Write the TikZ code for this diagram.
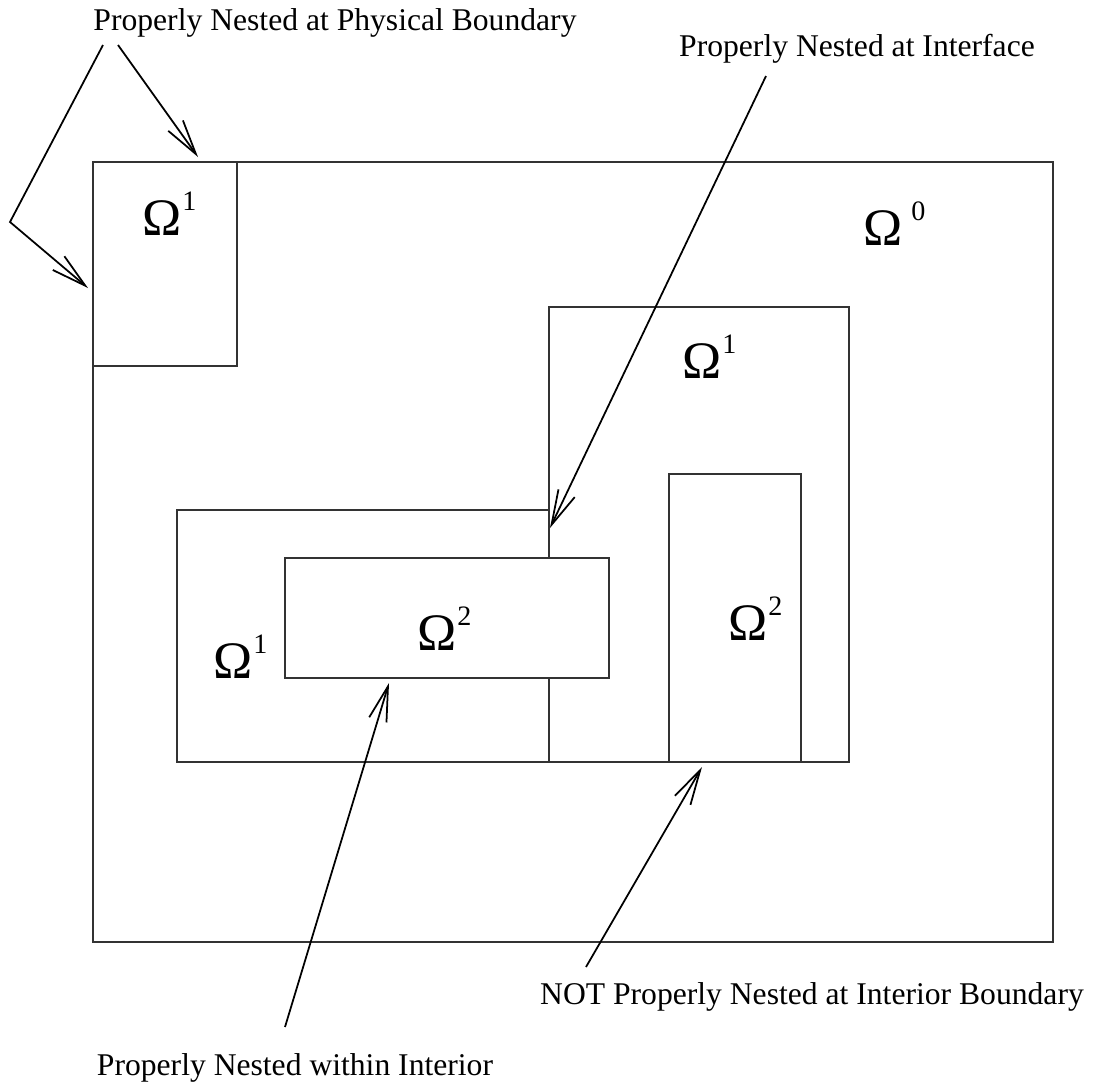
\documentclass[tikz,border=0pt]{standalone}
\usepackage{fontspec}
\setmainfont{Liberation Serif}
\usetikzlibrary{arrows.meta}
\newcommand{\Om}[2][0.5pt]{{\fontsize{30}{30}\selectfont Ω}\hspace{#1}\raisebox{14pt}{\fontsize{16}{16}\selectfont #2}}
\tikzset{
  box/.style={line width=0.6pt, draw=black!80},
  ptr/.style={line width=1pt, -{Straight Barb[length=0.7cm, width=0.36cm, line width=1pt]}},
  lbl/.style={font=\fontsize{18}{20}\selectfont, inner sep=0pt, anchor=base},
  om/.style={inner sep=0pt, anchor=base west}
}
\begin{document}
\begin{tikzpicture}[x=0.02cm, y=-0.02cm]
        \useasboundingbox (0,0) rectangle (1107,1082);
        % domains
        \draw[box] (93,162) rectangle (1053,942);
        \draw[box] (93,162) rectangle (237,366);
        \draw[box] (549,307) rectangle (849,762);
        \draw[box] (177,510) rectangle (549,762);
        \draw[box, fill=white] (285,558) rectangle (609,678);
        \draw[box] (669,474) rectangle (801,762);
        
        \node[om] (o0) at (863,245) {\Om[5pt]{0}};
        \node[om] (o1a) at (142,235) {\Om{1}};
        \node[om] (o1b) at (682,378) {\Om{1}};
        \node[om] (o1c) at (213,678) {\Om{1}};
        \node[om] (o2a) at (417,650) {\Om{2}};
        \node[om] (o2b) at (728,640) {\Om{2}};
        
        % labels
        \node[lbl] (phys) at (335,30) {Properly Nested at Physical Boundary};
        \node[lbl] (intf) at (857,56) {Properly Nested at Interface};
        \node[lbl] (notp) at (812,1004) {NOT Properly Nested at Interior Boundary};
        \node[lbl] (intr) at (295,1075) {Properly Nested within Interior};
        
        \coordinate (P1) at (118,45); \coordinate (T1) at (198,157);
        \coordinate (P2) at (103,45); \coordinate (K2) at (10,222); \coordinate (T2) at (88,288);
        \coordinate (P3) at (766,76); \coordinate (T3) at (550,528);
        \coordinate (P4) at (285,1027); \coordinate (T4) at (389,683);
        \coordinate (P5) at (586,967); \coordinate (T5) at (702,767);
        
        \draw[ptr] (P1) -- (T1);
        \draw[ptr] (P2) -- (K2) -- (T2);
        \draw[ptr] (P3) -- (T3);
        \draw[ptr] (P4) -- (T4);
        \draw[ptr] (P5) -- (T5);
      \end{tikzpicture}
\end{document}
